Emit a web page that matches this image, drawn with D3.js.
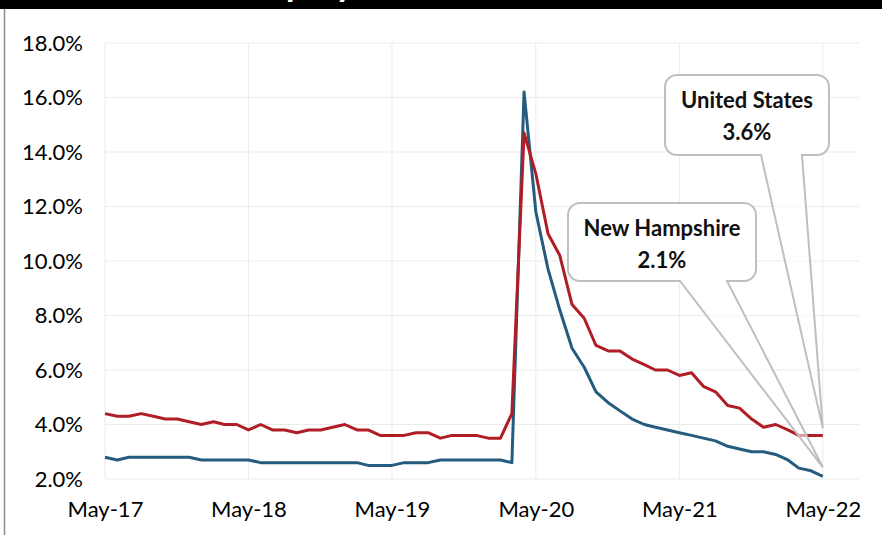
<!DOCTYPE html>
<html>
<head>
<meta charset="utf-8">
<script src="https://cdn.jsdelivr.net/npm/d3@7"></script>
<style>
  body { margin: 0; background: #fff; }
  svg { display: block; font-family: Lato, "Open Sans", sans-serif; }
</style>
</head>
<body>
<div id="chart"></div>
<script>
// Monthly unemployment rate, May-17 .. May-22
const startMonth = new Date(2017, 4, 1);
const newHampshire = [
  2.8, 2.7, 2.8, 2.8, 2.8, 2.8, 2.8, 2.8,
  2.7, 2.7, 2.7, 2.7, 2.7, 2.6, 2.6, 2.6, 2.6, 2.6, 2.6, 2.6,
  2.6, 2.6, 2.5, 2.5, 2.5, 2.6, 2.6, 2.6, 2.7, 2.7, 2.7, 2.7,
  2.7, 2.7, 2.6, 16.2, 11.8, 9.7, 8.2, 6.8, 6.1, 5.2, 4.8, 4.5,
  4.2, 4.0, 3.9, 3.8, 3.7, 3.6, 3.5, 3.4, 3.2, 3.1, 3.0, 3.0,
  2.9, 2.7, 2.4, 2.3, 2.1
];
const unitedStates = [
  4.4, 4.3, 4.3, 4.4, 4.3, 4.2, 4.2, 4.1,
  4.0, 4.1, 4.0, 4.0, 3.8, 4.0, 3.8, 3.8, 3.7, 3.8, 3.8, 3.9,
  4.0, 3.8, 3.8, 3.6, 3.6, 3.6, 3.7, 3.7, 3.5, 3.6, 3.6, 3.6,
  3.5, 3.5, 4.4, 14.7, 13.2, 11.0, 10.2, 8.4, 7.9, 6.9, 6.7, 6.7,
  6.4, 6.2, 6.0, 6.0, 5.8, 5.9, 5.4, 5.2, 4.7, 4.6, 4.2, 3.9,
  4.0, 3.8, 3.6, 3.6, 3.6
];
const yTicks = [2, 4, 6, 8, 10, 12, 14, 16, 18];
const xTickLabels = ["May-17", "May-18", "May-19", "May-20", "May-21", "May-22"];

const width = 882, height = 535;
const margin = { top: 43, right: 23, bottom: 56, left: 105 };
const innerW = width - margin.left - margin.right;
const innerH = height - margin.top - margin.bottom;

const dates = newHampshire.map((d, i) => d3.timeMonth.offset(startMonth, i));
const nhData = newHampshire.map((v, i) => ({ date: dates[i], value: v }));
const usData = unitedStates.map((v, i) => ({ date: dates[i], value: v }));
const xTickDates = xTickLabels.map(s => d3.timeParse("%b-%y")(s));

const svg = d3.select("#chart").append("svg")
    .attr("width", width)
    .attr("height", height);

// top title strip (mostly cropped off) and left frame line
svg.append("rect").attr("x", 0).attr("y", 0).attr("width", width).attr("height", 9).attr("fill", "#000");
svg.append("text")
    .attr("x", 190).attr("y", -4)
    .attr("fill", "#fff")
    .style("font-weight", "bold").style("font-size", "36px")
    .text("Unemployment Rate");
svg.append("rect").attr("x", 0).attr("y", 9).attr("width", width).attr("height", height).attr("fill", "#fff");
svg.append("line").attr("x1", 4.5).attr("x2", 4.5).attr("y1", 9).attr("y2", height)
    .attr("stroke", "#8c8c8c").attr("stroke-width", 1.5);

const g = svg.append("g").attr("transform", "translate(" + margin.left + "," + margin.top + ")");

const x = d3.scaleTime()
    .domain([startMonth, d3.timeMonth.offset(startMonth, 63)])
    .range([0, innerW]);
const y = d3.scaleLinear().domain([2, 18]).range([innerH, 0]);

// gridlines
g.append("g").selectAll("line").data(yTicks).join("line")
    .attr("x1", 0).attr("x2", innerW)
    .attr("y1", d => y(d)).attr("y2", d => y(d))
    .attr("stroke", "#ebebeb").attr("stroke-width", 1);
g.append("g").selectAll("line").data(xTickDates).join("line")
    .attr("x1", d => x(d)).attr("x2", d => x(d))
    .attr("y1", 0).attr("y2", innerH)
    .attr("stroke", "#ebebeb").attr("stroke-width", 1);

// axes
const yAxis = g.append("g")
    .call(d3.axisLeft(y).tickValues(yTicks).tickSize(0).tickPadding(22).tickFormat(d => d.toFixed(1) + "%"));
const xAxis = g.append("g").attr("transform", "translate(0," + innerH + ")")
    .call(d3.axisBottom(x).tickValues(xTickDates).tickSize(0).tickPadding(22).tickFormat(d3.timeFormat("%b-%y")));
[yAxis, xAxis].forEach(a => {
    a.select(".domain").remove();
    a.selectAll("text").style("font-family", "Lato, sans-serif").style("font-size", "22px").attr("fill", "#000");
});

const line = d3.line().x(d => x(d.date)).y(d => y(d.value));

g.append("path").datum(nhData)
    .attr("fill", "none").attr("stroke", "#245b7e").attr("stroke-width", 3)
    .attr("stroke-linejoin", "round")
    .attr("d", line);
g.append("path").datum(usData)
    .attr("fill", "none").attr("stroke", "#b01d25").attr("stroke-width", 3)
    .attr("stroke-linejoin", "round")
    .attr("d", line);

// callouts pointing at the last values
function callout(box, lines, target, offset) {
    const last = target[target.length - 1];
    const tx = x(last.date), ty = y(last.value) - offset;
    const [x0, y0, x1, y1] = box, r = 12;
    const [bx0, bx1] = box.slice(4);
    const cg = g.append("g");
    cg.append("path")
        .attr("d", `M${bx0},${y1}L${tx},${ty}L${bx1},${y1}Z`)
        .attr("fill", "#fff").attr("fill-opacity", 0.55);
    cg.append("rect")
        .attr("x", x0).attr("y", y0).attr("width", x1 - x0).attr("height", y1 - y0)
        .attr("rx", r).attr("fill", "#fff");
    cg.append("path")
        .attr("d", `M${x0 + r},${y0}H${x1 - r}A${r},${r} 0 0 1 ${x1},${y0 + r}V${y1 - r}` +
            `A${r},${r} 0 0 1 ${x1 - r},${y1}H${bx1}L${tx},${ty}L${bx0},${y1}H${x0 + r}` +
            `A${r},${r} 0 0 1 ${x0},${y1 - r}V${y0 + r}A${r},${r} 0 0 1 ${x0 + r},${y0}Z`)
        .attr("fill", "none").attr("stroke", "#bfbfbf").attr("stroke-width", 2);
    cg.selectAll("text").data(lines).join("text")
        .attr("x", (x0 + x1) / 2)
        .attr("y", (d, i) => y0 + 33 + i * 32)
        .attr("text-anchor", "middle")
        .style("font-weight", "bold").style("font-size", "22px")
        .attr("fill", "#111")
        .text(d => d);
}

callout([463, 160, 651, 238, 575, 622], ["New Hampshire", newHampshire[newHampshire.length - 1].toFixed(1) + "%"], nhData, 9);
callout([560, 32, 724, 112, 656, 697], ["United States", unitedStates[unitedStates.length - 1].toFixed(1) + "%"], usData, 7);
</script>
</body>
</html>
